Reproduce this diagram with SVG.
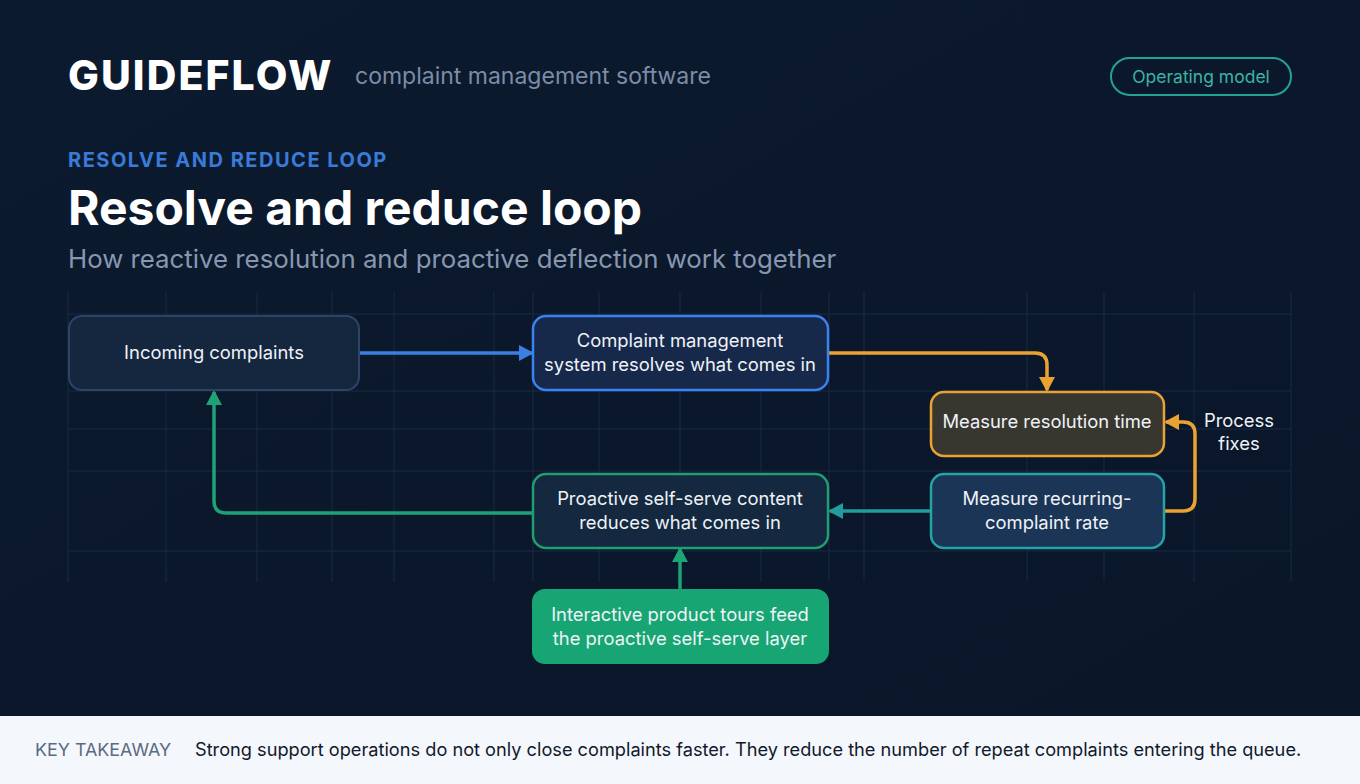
<svg xmlns="http://www.w3.org/2000/svg" width="1360" height="784" viewBox="0 0 1360 784">
<defs>
<style>
.t{font-family:Inter,"Noto Sans","Liberation Sans",sans-serif}
.nt{font-family:Inter,"Noto Sans","Liberation Sans",sans-serif;font-size:18.4px;fill:#eef2f7;text-anchor:middle}
.grid line{stroke:#1b2b44;stroke-width:1}
.c{fill:none;stroke-width:3.5;stroke-linejoin:round}
</style>
<linearGradient id="bg" x1="0" y1="0" x2="1" y2="1">
<stop offset="0" stop-color="#0c1a2f"/>
<stop offset="1" stop-color="#0a1628"/>
</linearGradient>
<marker id="mb" markerUnits="userSpaceOnUse" markerWidth="16" markerHeight="18" refX="13" refY="9" orient="auto"><path d="M0,1 L15,9 L0,17 z" fill="#3b7fe0"/></marker>
<marker id="mo" markerUnits="userSpaceOnUse" markerWidth="16" markerHeight="18" refX="13" refY="9" orient="auto"><path d="M0,1 L15,9 L0,17 z" fill="#eaa232"/></marker>
<marker id="mt" markerUnits="userSpaceOnUse" markerWidth="16" markerHeight="18" refX="13" refY="9" orient="auto"><path d="M0,1 L15,9 L0,17 z" fill="#229c9c"/></marker>
<marker id="mg" markerUnits="userSpaceOnUse" markerWidth="16" markerHeight="18" refX="13" refY="9" orient="auto"><path d="M0,1 L15,9 L0,17 z" fill="#1fa276"/></marker>
</defs>
<rect width="1360" height="784" fill="url(#bg)"/>
<g class="grid">
<line x1="68" y1="292" x2="68" y2="582"/><line x1="166" y1="292" x2="166" y2="582"/><line x1="257" y1="292" x2="257" y2="582"/><line x1="332" y1="292" x2="332" y2="582"/><line x1="394" y1="292" x2="394" y2="582"/><line x1="494" y1="292" x2="494" y2="582"/><line x1="533" y1="292" x2="533" y2="582"/><line x1="599" y1="292" x2="599" y2="582"/><line x1="680" y1="292" x2="680" y2="582"/><line x1="761" y1="292" x2="761" y2="582"/><line x1="829" y1="292" x2="829" y2="582"/><line x1="864" y1="292" x2="864" y2="582"/><line x1="1027" y1="292" x2="1027" y2="582"/><line x1="1104" y1="292" x2="1104" y2="582"/><line x1="1194" y1="292" x2="1194" y2="582"/><line x1="1291" y1="292" x2="1291" y2="582"/>
<line x1="68" y1="314" x2="1291" y2="314"/><line x1="68" y1="391" x2="1291" y2="391"/><line x1="68" y1="429" x2="1291" y2="429"/><line x1="68" y1="471" x2="1291" y2="471"/><line x1="68" y1="551" x2="1291" y2="551"/>
</g>
<g id="header">
<text class="t" x="68" y="90" font-size="41" font-weight="800" letter-spacing="2.1" fill="#ffffff">GUIDEFLOW</text>
<text class="t" x="355" y="84" font-size="23" fill="#7d8ca5">complaint management software</text>
<rect x="1111" y="58" width="180" height="37" rx="18.5" fill="none" stroke="#23a396" stroke-width="2"/>
<text class="t" x="1201" y="83" font-size="17.5" fill="#3db3a6" text-anchor="middle">Operating model</text>
<text class="t" x="68" y="167" font-size="20" font-weight="700" letter-spacing="1.5" fill="#3a7bd8">RESOLVE AND REDUCE LOOP</text>
<text class="t" x="68" y="225" font-size="48" font-weight="700" fill="#ffffff">Resolve and reduce loop</text>
<text class="t" x="68" y="268" font-size="25.8" fill="#8797b0">How reactive resolution and proactive deflection work together</text>
</g>
<g id="connectors">
<path class="c" d="M360,353 H532" stroke="#3b7fe0" marker-end="url(#mb)"/>
<path class="c" d="M828,353 H1035 Q1047,353 1047,365 V390" stroke="#eaa232" marker-end="url(#mo)"/>
<path class="c" d="M1164,511 H1183 Q1195,511 1195,499 V434 Q1195,422 1183,422 H1166" stroke="#eaa232" marker-end="url(#mo)"/>
<path class="c" d="M931,511 H830" stroke="#229c9c" marker-end="url(#mt)"/>
<path class="c" d="M533,513 H226 Q214,513 214,501 V392" stroke="#1fa276" marker-end="url(#mg)"/>
<path class="c" d="M680,589 V549" stroke="#1fa276" marker-end="url(#mg)"/>
</g>
<g id="incoming">
<rect x="69" y="316" width="290" height="74" rx="13" fill="#15263f" stroke="#2c4468" stroke-width="2"/>
<text class="nt" x="214" y="359">Incoming complaints</text>
</g>
<g id="cms">
<rect x="533" y="316" width="295" height="74" rx="13" fill="#16294a" stroke="#3b82f0" stroke-width="2.5"/>
<text class="nt" x="680" y="347">Complaint management</text>
<text class="nt" x="680" y="371">system resolves what comes in</text>
</g>
<g id="resolution-time">
<rect x="931" y="392" width="233" height="64" rx="13" fill="#38372f" stroke="#eaa232" stroke-width="2.5"/>
<text class="nt" x="1047" y="428">Measure resolution time</text>
</g>
<g id="recurring">
<rect x="931" y="474" width="233" height="74" rx="13" fill="#1b3556" stroke="#26a3a6" stroke-width="2.5"/>
<text class="nt" x="1047" y="505">Measure recurring-</text>
<text class="nt" x="1047" y="529">complaint rate</text>
</g>
<g id="proactive">
<rect x="533" y="474" width="295" height="74" rx="13" fill="#14293f" stroke="#1f9e73" stroke-width="2.5"/>
<text class="nt" x="680" y="505">Proactive self-serve content</text>
<text class="nt" x="680" y="529">reduces what comes in</text>
</g>
<g id="tours">
<rect x="532" y="589" width="297" height="75" rx="13" fill="#17a673"/>
<text class="nt" x="680" y="621" fill="#f4fbf7">Interactive product tours feed</text>
<text class="nt" x="680" y="645" fill="#f4fbf7">the proactive self-serve layer</text>
</g>
<g id="process-fixes">
<text class="nt" x="1239" y="427" fill="#d9dfe8">Process</text>
<text class="nt" x="1239" y="450" fill="#d9dfe8">fixes</text>
</g>
<g id="footer">
<rect x="0" y="716" width="1360" height="68" fill="#f4f7fb"/>
<text class="t" x="35" y="756" font-size="17.9" fill="#5b6b82">KEY TAKEAWAY</text>
<text class="t" x="195" y="756" font-size="18.2" fill="#111a2c">Strong support operations do not only close complaints faster. They reduce the number of repeat complaints entering the queue.</text>
</g>
</svg>
